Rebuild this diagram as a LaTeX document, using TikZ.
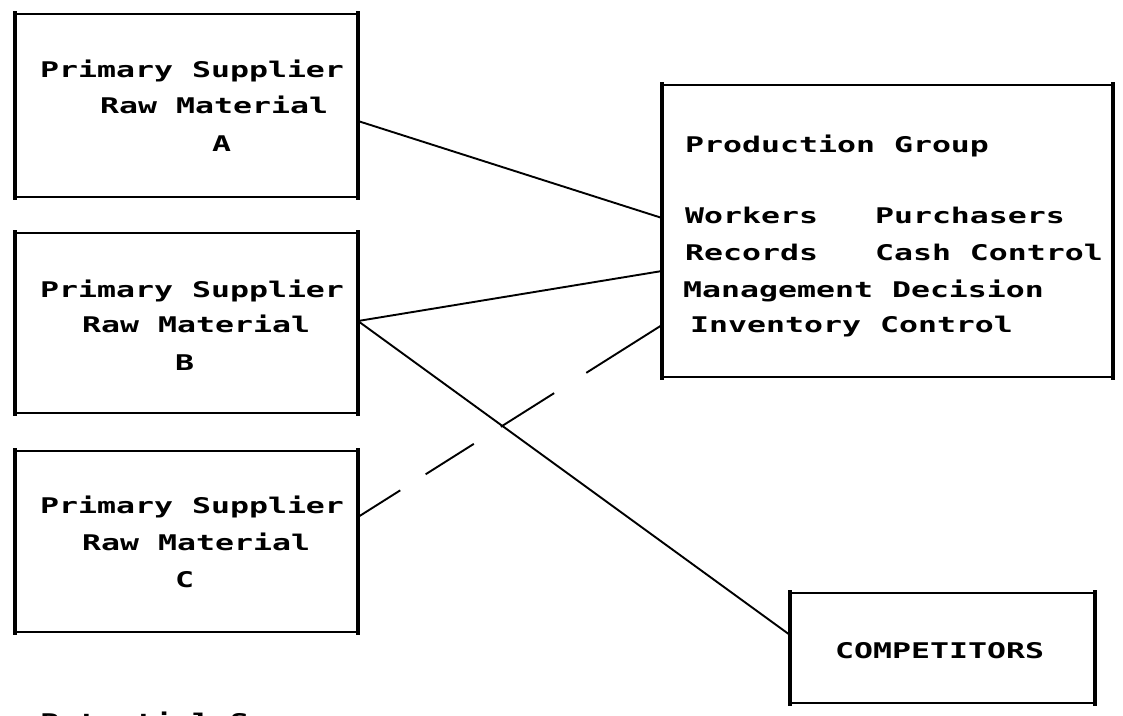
\documentclass[tikz,border=0pt]{standalone}
\usepackage{fontspec}
\newfontfamily\dotfont[FakeStretch=1.46]{DejaVu Sans Mono}
\begin{document}
\begin{tikzpicture}[x=1pt,y=-1pt,
  box/.style={draw, line width=1.4pt, inner sep=0pt, outer sep=0pt},
  vedge/.style={line width=4pt},
  link/.style={line width=1.9pt},
  dlink/.style={line width=1.9pt, dash pattern=on 50pt off 30pt on 57pt off 32pt on 63pt off 38pt on 90pt off 10pt},
  txt/.style={anchor=base west, inner sep=0pt, font=\dotfont\bfseries\fontsize{21.6}{36.7}\selectfont}]
\useasboundingbox (0,0) rectangle (1123,715);
% boxes
\node[box, minimum width=343pt, minimum height=183pt] (A) at (186.5,105.5) {};
\node[box, minimum width=343pt, minimum height=180pt] (B) at (186.5,323) {};
\node[box, minimum width=343pt, minimum height=181pt] (C) at (186.5,541.5) {};
\node[box, minimum width=451pt, minimum height=292pt] (PG) at (887.5,231) {};
\node[box, minimum width=305pt, minimum height=110pt] (CO) at (942.5,648) {};
% thick vertical edges
\foreach \n in {A,B,C,PG,CO}{
  \draw[vedge] ([yshift=3pt]\n.north west) -- ([yshift=-3pt]\n.south west);
  \draw[vedge] ([yshift=3pt]\n.north east) -- ([yshift=-3pt]\n.south east);
}
% texts
\node[txt] (a1) at (40,77) {Primary Supplier};
\node[txt] (a2) at (100,113) {Raw Material};
\node[txt] (a3) at (212,151) {A};
\node[txt] (b1) at (40,297) {Primary Supplier};
\node[txt] (b2) at (82,332) {Raw Material};
\node[txt] (b3) at (175,370) {B};
\node[txt] (c1) at (40,513) {Primary Supplier};
\node[txt] (c2) at (82,550) {Raw Material};
\node[txt] (c3) at (175,587) {C};
\node[txt] (p1) at (685,152) {Production Group};
\node[txt] (p2) at (685,223) {Workers~~~Purchasers};
\node[txt] (p3) at (685,260) {Records~~~Cash Control};
\node[txt] (p4) at (683,297) {Management Decision};
\node[txt] (p5) at (690,332) {Inventory Control};
\node[txt] (co) at (835,658) {COMPETITORS};
\node[txt] (ps) at (40,729) {Potential Sources};
% connectors
\draw[link] ([yshift=-15.5pt]A.east) -- ([yshift=13pt]PG.west);
\draw[link] ([yshift=2pt]B.east) -- ([yshift=-40pt]PG.west);
\draw[link] ([yshift=2pt]B.east) -- ([yshift=13pt]CO.west);
\draw[dlink] ([yshift=24.5pt]C.east) -- ([yshift=-94pt]PG.west);
\end{tikzpicture}
\end{document}
